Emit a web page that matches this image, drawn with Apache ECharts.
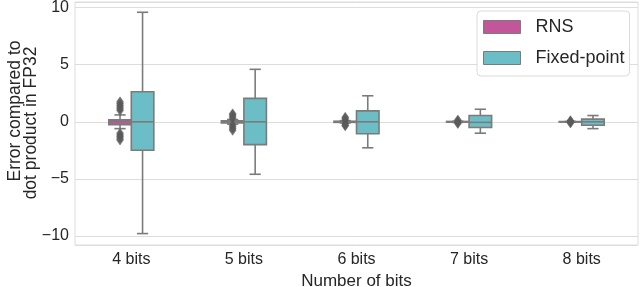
<!DOCTYPE html>
<html>
<head>
<meta charset="utf-8">
<script src="https://cdn.jsdelivr.net/npm/echarts@6/dist/echarts.min.js"></script>
<style>html,body{margin:0;padding:0;background:#fff}#c{width:640px;height:287px}</style>
</head>
<body>
<div id="c"></div>
<script>
// ---- data ----
const categories = ['4 bits', '5 bits', '6 bits', '7 bits', '8 bits'];
// [lowWhisker, Q1, median, Q3, highWhisker]
const rnsStats = [
  [-0.6, -0.26, 0, 0.18, 0.6],
  [-0.2, -0.1, 0, 0.08, 0.2],
  [-0.1, -0.05, 0, 0.05, 0.1],
  [-0.05, -0.03, 0, 0.03, 0.05],
  [-0.03, -0.02, 0, 0.02, 0.03]
];
const fixedStats = [
  [-9.8, -2.5, 0, 2.63, 9.6],
  [-4.6, -2.0, 0, 2.05, 4.6],
  [-2.28, -1.05, 0, 0.96, 2.28],
  [-1.0, -0.5, -0.05, 0.55, 1.1],
  [-0.6, -0.3, 0, 0.23, 0.55]
];
const rnsFliers = [
  [1.0, 1.15, 1.3, 1.45, 1.6, 1.75, -1.0, -1.15, -1.3, -1.45, -1.6],
  [0.3, 0.45, 0.6, 0.7, -0.3, -0.45, -0.6, -0.75],
  [0.15, 0.3, 0.4, -0.15, -0.3, -0.35],
  [0.08, 0.15, -0.08, -0.15],
  [0.05, 0.1, -0.05, -0.1]
];
const fixedFliers = [[], [], [], [], []];
const yTicks = [-10, -5, 0, 5, 10];
const yTitleLines = ['Error compared to', 'dot product in FP32'];

// ---- styles ----
const RNS_COLOR = '#c3559b';
const FIX_COLOR = '#6bbec6';
const EDGE = '#7b7b7b';
const FLIER = '#5a5a5a';
const GRIDC = '#dddddd';
const TXT = '#262626';
const FONT = '"Liberation Sans", Arial, sans-serif';

function boxRenderer(offset) {
  return function (params, api) {
    const x = api.value(0) + offset;
    const lo = api.coord([x, api.value(1)]);
    const q1 = api.coord([x, api.value(2)]);
    const md = api.coord([x, api.value(3)]);
    const q3 = api.coord([x, api.value(4)]);
    const hi = api.coord([x, api.value(5)]);
    const hw = api.size([0.1, 0])[0];
    const cw = hw / 2;
    const cx = md[0];
    const ls = { stroke: EDGE, lineWidth: 1.6 };
    return {
      type: 'group',
      children: [
        { type: 'line', shape: { x1: cx, y1: q3[1], x2: cx, y2: hi[1] }, style: ls },
        { type: 'line', shape: { x1: cx, y1: q1[1], x2: cx, y2: lo[1] }, style: ls },
        { type: 'line', shape: { x1: cx - cw, y1: hi[1], x2: cx + cw, y2: hi[1] }, style: ls },
        { type: 'line', shape: { x1: cx - cw, y1: lo[1], x2: cx + cw, y2: lo[1] }, style: ls },
        { type: 'rect', shape: { x: cx - hw, y: q3[1], width: 2 * hw, height: q1[1] - q3[1] },
          style: { fill: api.visual('color'), stroke: EDGE, lineWidth: 1.6 } },
        { type: 'line', shape: { x1: cx - hw, y1: md[1], x2: cx + hw, y2: md[1] }, style: ls }
      ]
    };
  };
}

function flierData(fl, offset) {
  const out = [];
  fl.forEach((arr, i) => arr.forEach(v => out.push([i + offset, v])));
  return out;
}

const chart = echarts.init(document.getElementById('c'), null, { renderer: 'canvas' });
chart.setOption({
  animation: false,
  backgroundColor: '#fff',
  textStyle: { fontFamily: FONT },
  grid: { left: 75, right: 2, top: 2, bottom: 42, show: true, borderColor: GRIDC, borderWidth: 1,
          containLabel: false, outerBoundsMode: 'none' },
  legend: {
    orient: 'vertical',
    left: 477, top: 11,
    padding: [7, 5, 9, 6],
    itemWidth: 37, itemHeight: 13, itemGap: 13,
    icon: 'rect',
    backgroundColor: '#fff',
    borderColor: '#dadada', borderWidth: 1, borderRadius: 4,
    textStyle: { fontSize: 18, color: TXT, fontFamily: FONT, padding: [0, 0, 0, 10] },
    data: [
      { name: 'RNS', itemStyle: { color: RNS_COLOR, borderColor: EDGE, borderWidth: 1 } },
      { name: 'Fixed-point', itemStyle: { color: FIX_COLOR, borderColor: EDGE, borderWidth: 1 } }
    ]
  },
  graphic: [
    { type: 'text', x: 15, y: 111, rotation: Math.PI / 2,
      style: { text: yTitleLines[0], fontSize: 17.5, fontFamily: FONT, fill: TXT, align: 'center', verticalAlign: 'middle' } },
    { type: 'text', x: 31, y: 123, rotation: Math.PI / 2,
      style: { text: yTitleLines[1], fontSize: 17.5, fontFamily: FONT, fill: TXT, align: 'center', verticalAlign: 'middle' } }
  ],
  xAxis: [
    {
      type: 'category', data: categories, position: 'bottom',
      axisLine: { show: false }, axisTick: { show: false }, splitLine: { show: false },
      axisLabel: { fontSize: 16, color: TXT, margin: 7, fontFamily: FONT },
      name: 'Number of bits', nameLocation: 'middle', nameGap: 20,
      nameTextStyle: { fontSize: 17, color: TXT, fontFamily: FONT, verticalAlign: 'top' }
    },
    { type: 'value', min: -0.5, max: 4.5, show: false }
  ],
  yAxis: {
    type: 'value', min: -10.8, max: 10.5, splitNumber: 4,
    axisLine: { show: false }, axisTick: { show: false },
    splitLine: { show: true, lineStyle: { color: GRIDC, width: 1 } },
    axisLabel: {
      fontSize: 16, color: TXT, margin: 6, fontFamily: FONT,
      showMinLabel: false, showMaxLabel: false,
      formatter: v => (yTicks.indexOf(v) >= 0 ? (v < 0 ? '\u2212' + Math.abs(v) : String(v)) : '')
    }
  },
  series: [
    {
      name: 'RNS', type: 'custom', xAxisIndex: 1,
      itemStyle: { color: RNS_COLOR },
      renderItem: boxRenderer(-0.1),
      encode: { x: 0, y: [1, 2, 3, 4, 5] },
      data: rnsStats.map((s, i) => [i].concat(s)),
      z: 3
    },
    {
      name: 'Fixed-point', type: 'custom', xAxisIndex: 1,
      itemStyle: { color: FIX_COLOR },
      renderItem: boxRenderer(0.1),
      encode: { x: 0, y: [1, 2, 3, 4, 5] },
      data: fixedStats.map((s, i) => [i].concat(s)),
      z: 3
    },
    {
      name: 'RNS fliers', type: 'scatter', xAxisIndex: 1,
      symbol: 'diamond', symbolSize: [7, 10],
      itemStyle: { color: FLIER, borderColor: FLIER, borderWidth: 0.5 },
      data: flierData(rnsFliers, -0.1), z: 4, silent: true
    },
    {
      name: 'Fixed fliers', type: 'scatter', xAxisIndex: 1,
      symbol: 'diamond', symbolSize: [7, 10],
      itemStyle: { color: FLIER },
      data: flierData(fixedFliers, 0.1), z: 4, silent: true
    }
  ]
});
</script>
</body>
</html>
